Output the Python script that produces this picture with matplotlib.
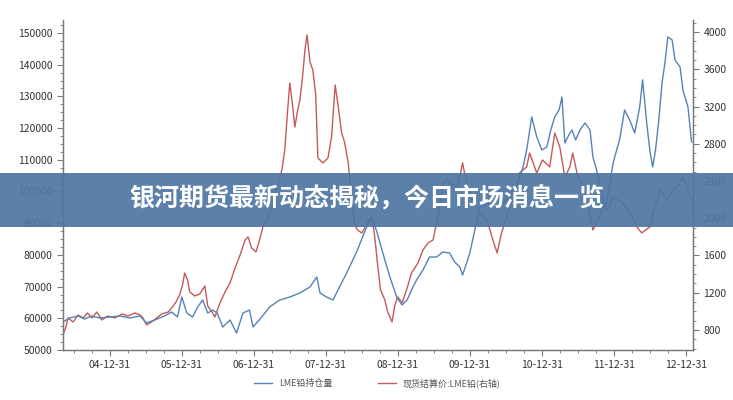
import matplotlib
matplotlib.use("Agg")
import matplotlib.pyplot as plt
from matplotlib.patches import Rectangle
from matplotlib.ticker import AutoMinorLocator, MultipleLocator

# LME lead open interest (left axis), decimal years
oi_t = [2004.35, 2004.44, 2004.56, 2004.65, 2004.75, 2004.86, 2005.00, 2005.14, 2005.28, 2005.42,
        2005.51, 2005.625, 2005.76, 2005.86, 2005.94, 2006.00, 2006.07, 2006.15, 2006.22, 2006.29,
        2006.36, 2006.43, 2006.49, 2006.57, 2006.67, 2006.76, 2006.85, 2006.94, 2006.99, 2007.11,
        2007.22, 2007.36, 2007.50, 2007.64, 2007.78, 2007.875, 2007.92, 2008.01, 2008.10, 2008.19,
        2008.29, 2008.375, 2008.44, 2008.51, 2008.58, 2008.64, 2008.71, 2008.78, 2008.89, 2008.99,
        2009.06, 2009.13, 2009.19, 2009.26, 2009.35, 2009.44, 2009.54, 2009.625, 2009.72, 2009.79,
        2009.86, 2009.90, 2009.96, 2010.00, 2010.07, 2010.14, 2010.24, 2010.32, 2010.375, 2010.44,
        2010.51, 2010.58, 2010.65, 2010.74, 2010.79, 2010.86, 2010.93, 2011.00, 2011.07, 2011.125,
        2011.18, 2011.24, 2011.28, 2011.32, 2011.375, 2011.42, 2011.47, 2011.53, 2011.60, 2011.67,
        2011.71, 2011.76, 2011.81, 2011.875, 2011.93, 2011.99, 2012.04, 2012.08, 2012.15, 2012.22,
        2012.29, 2012.36, 2012.40, 2012.46, 2012.50, 2012.54, 2012.58, 2012.625, 2012.67, 2012.71,
        2012.75, 2012.81, 2012.85, 2012.92, 2012.96, 2013.03, 2013.08]
oi_v = [58830, 60100, 60730, 59780, 60730, 60100, 60410, 60730, 60100, 60730,
        58520, 59470, 60730, 61990, 60410, 66720, 61670, 60410, 63570, 65780,
        61670, 62620, 61670, 57260, 59470, 55360, 61670, 62620, 57260, 60410,
        63570, 65780, 66720, 67980, 69880, 73030, 67980, 66720, 65780, 69880,
        74290, 78400, 81550, 85650, 89440, 91650, 87230, 81550, 73030, 66410,
        64200, 65780, 68930, 72090, 75240, 79340, 79340, 80920, 80600, 77760,
        76190, 73660, 77760, 80600, 87860, 95120, 96380, 95750, 95120, 96380,
        97330, 98900, 101430, 107740, 113100, 123510, 117200, 113100, 114050, 119410,
        123510, 125720, 129820, 115310, 117830, 119410, 116260, 119410, 121620, 119410,
        110890, 106790, 101430, 94170, 100480, 109000, 113100, 116260, 125720, 122570,
        118460, 126670, 135190, 120990, 113100, 107740, 113100, 122570, 134240, 140550,
        148750, 147810, 141500, 139290, 132030, 126670, 115620]

# LME lead cash settlement price (right axis)
px_t = [2004.35, 2004.39, 2004.42, 2004.49, 2004.56, 2004.63, 2004.69, 2004.75, 2004.82, 2004.89,
        2004.97, 2005.07, 2005.17, 2005.25, 2005.35, 2005.42, 2005.46, 2005.51, 2005.58, 2005.65,
        2005.72, 2005.81, 2005.86, 2005.92, 2005.97, 2006.01, 2006.04, 2006.08, 2006.11, 2006.18,
        2006.25, 2006.32, 2006.36, 2006.42, 2006.46, 2006.53, 2006.60, 2006.67, 2006.74, 2006.81,
        2006.88, 2006.92, 2006.97, 2007.03, 2007.08, 2007.13, 2007.19, 2007.26, 2007.32, 2007.39,
        2007.43, 2007.47, 2007.50, 2007.53, 2007.57, 2007.61, 2007.64, 2007.68, 2007.71, 2007.74,
        2007.78, 2007.82, 2007.86, 2007.89, 2007.96, 2008.03, 2008.08, 2008.13, 2008.17, 2008.22,
        2008.26, 2008.31, 2008.36, 2008.40, 2008.44, 2008.50, 2008.54, 2008.58, 2008.64, 2008.68,
        2008.72, 2008.76, 2008.82, 2008.86, 2008.92, 2008.96, 2009.00, 2009.06, 2009.13, 2009.19,
        2009.28, 2009.35, 2009.42, 2009.49, 2009.56, 2009.63, 2009.69, 2009.76, 2009.83, 2009.90,
        2009.96, 2010.04, 2010.14, 2010.24, 2010.32, 2010.38, 2010.44, 2010.56, 2010.64, 2010.69,
        2010.79, 2010.83, 2010.93, 2011.01, 2011.11, 2011.18, 2011.25, 2011.32, 2011.39, 2011.43,
        2011.50, 2011.57, 2011.64, 2011.71, 2011.78, 2011.85, 2011.92, 2011.99, 2012.06, 2012.13,
        2012.19, 2012.26, 2012.33, 2012.39, 2012.44, 2012.50, 2012.57, 2012.64, 2012.74, 2012.81,
        2012.88, 2012.96, 2013.01, 2013.06, 2013.08]
px_v = [746, 832, 929, 886, 961, 929, 983, 929, 993, 907,
        950, 929, 972, 950, 983, 961, 929, 854, 886, 929,
        972, 993, 1036, 1101, 1176, 1283, 1412, 1337, 1208, 1165,
        1187, 1273, 1058, 993, 940, 1090, 1208, 1305, 1466, 1606,
        1767, 1799, 1681, 1638, 1767, 1917, 1981, 2143, 2325, 2518,
        2733, 3163, 3453, 3270, 2980, 3163, 3270, 3539, 3807, 3968,
        3678, 3592, 3324, 2647, 2594, 2647, 2873, 3431, 3217, 2916,
        2819, 2604, 2196, 1928, 1874, 1842, 1895, 1960, 2014, 1799,
        1498, 1230, 1122, 993, 886, 1069, 1154, 1090, 1251, 1412,
        1520, 1659, 1734, 1767, 2035, 2379, 2411, 2357, 2336, 2594,
        2357, 2196, 2057, 1981, 1767, 1627, 1842, 2121, 2304, 2486,
        2551, 2701, 2486, 2626, 2551, 2916, 2765, 2443, 2551, 2701,
        2443, 2336, 2121, 1874, 1981, 2121, 2089, 2228, 2196, 2164,
        2089, 2014, 1895, 1842, 1874, 1906, 2121, 2304, 2196, 2304,
        2336, 2443, 2357, 2228, 2196]

year_ticks = [2005, 2006, 2007, 2008, 2009, 2010, 2011, 2012, 2013]
year_labels = ["04-12-31", "05-12-31", "06-12-31", "07-12-31", "08-12-31",
               "09-12-31", "10-12-31", "11-12-31", "12-12-31"]

plt.rcParams['font.family'] = ['Liberation Sans Narrow', 'Noto Sans CJK SC', 'DejaVu Sans']

fig = plt.figure(figsize=(7.33, 4.0), dpi=100)
ax = fig.add_axes([63/733, 50/400, 630/733, 330/400])
ax2 = ax.twinx()

blue = "#5583b6"
red = "#c45a5a"
l1, = ax.plot(oi_t, oi_v, color=blue, lw=1.0, label="LME铅持仓量")
l2, = ax2.plot(px_t, px_v, color=red, lw=1.0, label="现货结算价:LME铅(右轴)")
ax.set_zorder(ax2.get_zorder() + 1)
ax.patch.set_visible(False)

ax.set_xlim(2004.35, 2013.10)
ax.set_ylim(50000, 154100)
ax2.set_ylim(585, 4129)

ax.set_xticks(year_ticks)
ax.set_xticklabels(year_labels)
ax.xaxis.set_minor_locator(MultipleLocator(0.25))
ax.set_yticks(range(50000, 150001, 10000))
ax.yaxis.set_minor_locator(AutoMinorLocator(4))
ax2.set_yticks(range(800, 4001, 400))
ax2.yaxis.set_minor_locator(AutoMinorLocator(4))

for a in (ax, ax2):
    a.spines['top'].set_visible(False)
    for s in a.spines.values():
        s.set_color("#777777")
        s.set_linewidth(0.9)
    a.tick_params(which='both', colors="#777777", labelcolor="#333333", labelsize=7.5, direction='out')
    a.tick_params(which='major', length=4)
    a.tick_params(which='minor', length=2)

fig.legend([l1, l2], [l1.get_label(), l2.get_label()], loc='center', ncol=2,
           bbox_to_anchor=(0.515, 1 - 383/400), frameon=False, fontsize=6.5,
           handlelength=2.0, columnspacing=5, labelcolor="#555555")

# title banner across the chart
fig.add_artist(Rectangle((0, 1 - 227/400), 1, 54/400, transform=fig.transFigure,
                         facecolor="#4e76a3", alpha=0.93, edgecolor='none', zorder=10))
fig.text(0.5, 1 - 199/400, "银河期货最新动态揭秘，今日市场消息一览", color="white",
         fontsize=18, fontweight='bold', ha='center', va='center', zorder=11,
         family=['Noto Sans CJK SC', 'DejaVu Sans'])

fig.savefig("out.png", dpi=100)
